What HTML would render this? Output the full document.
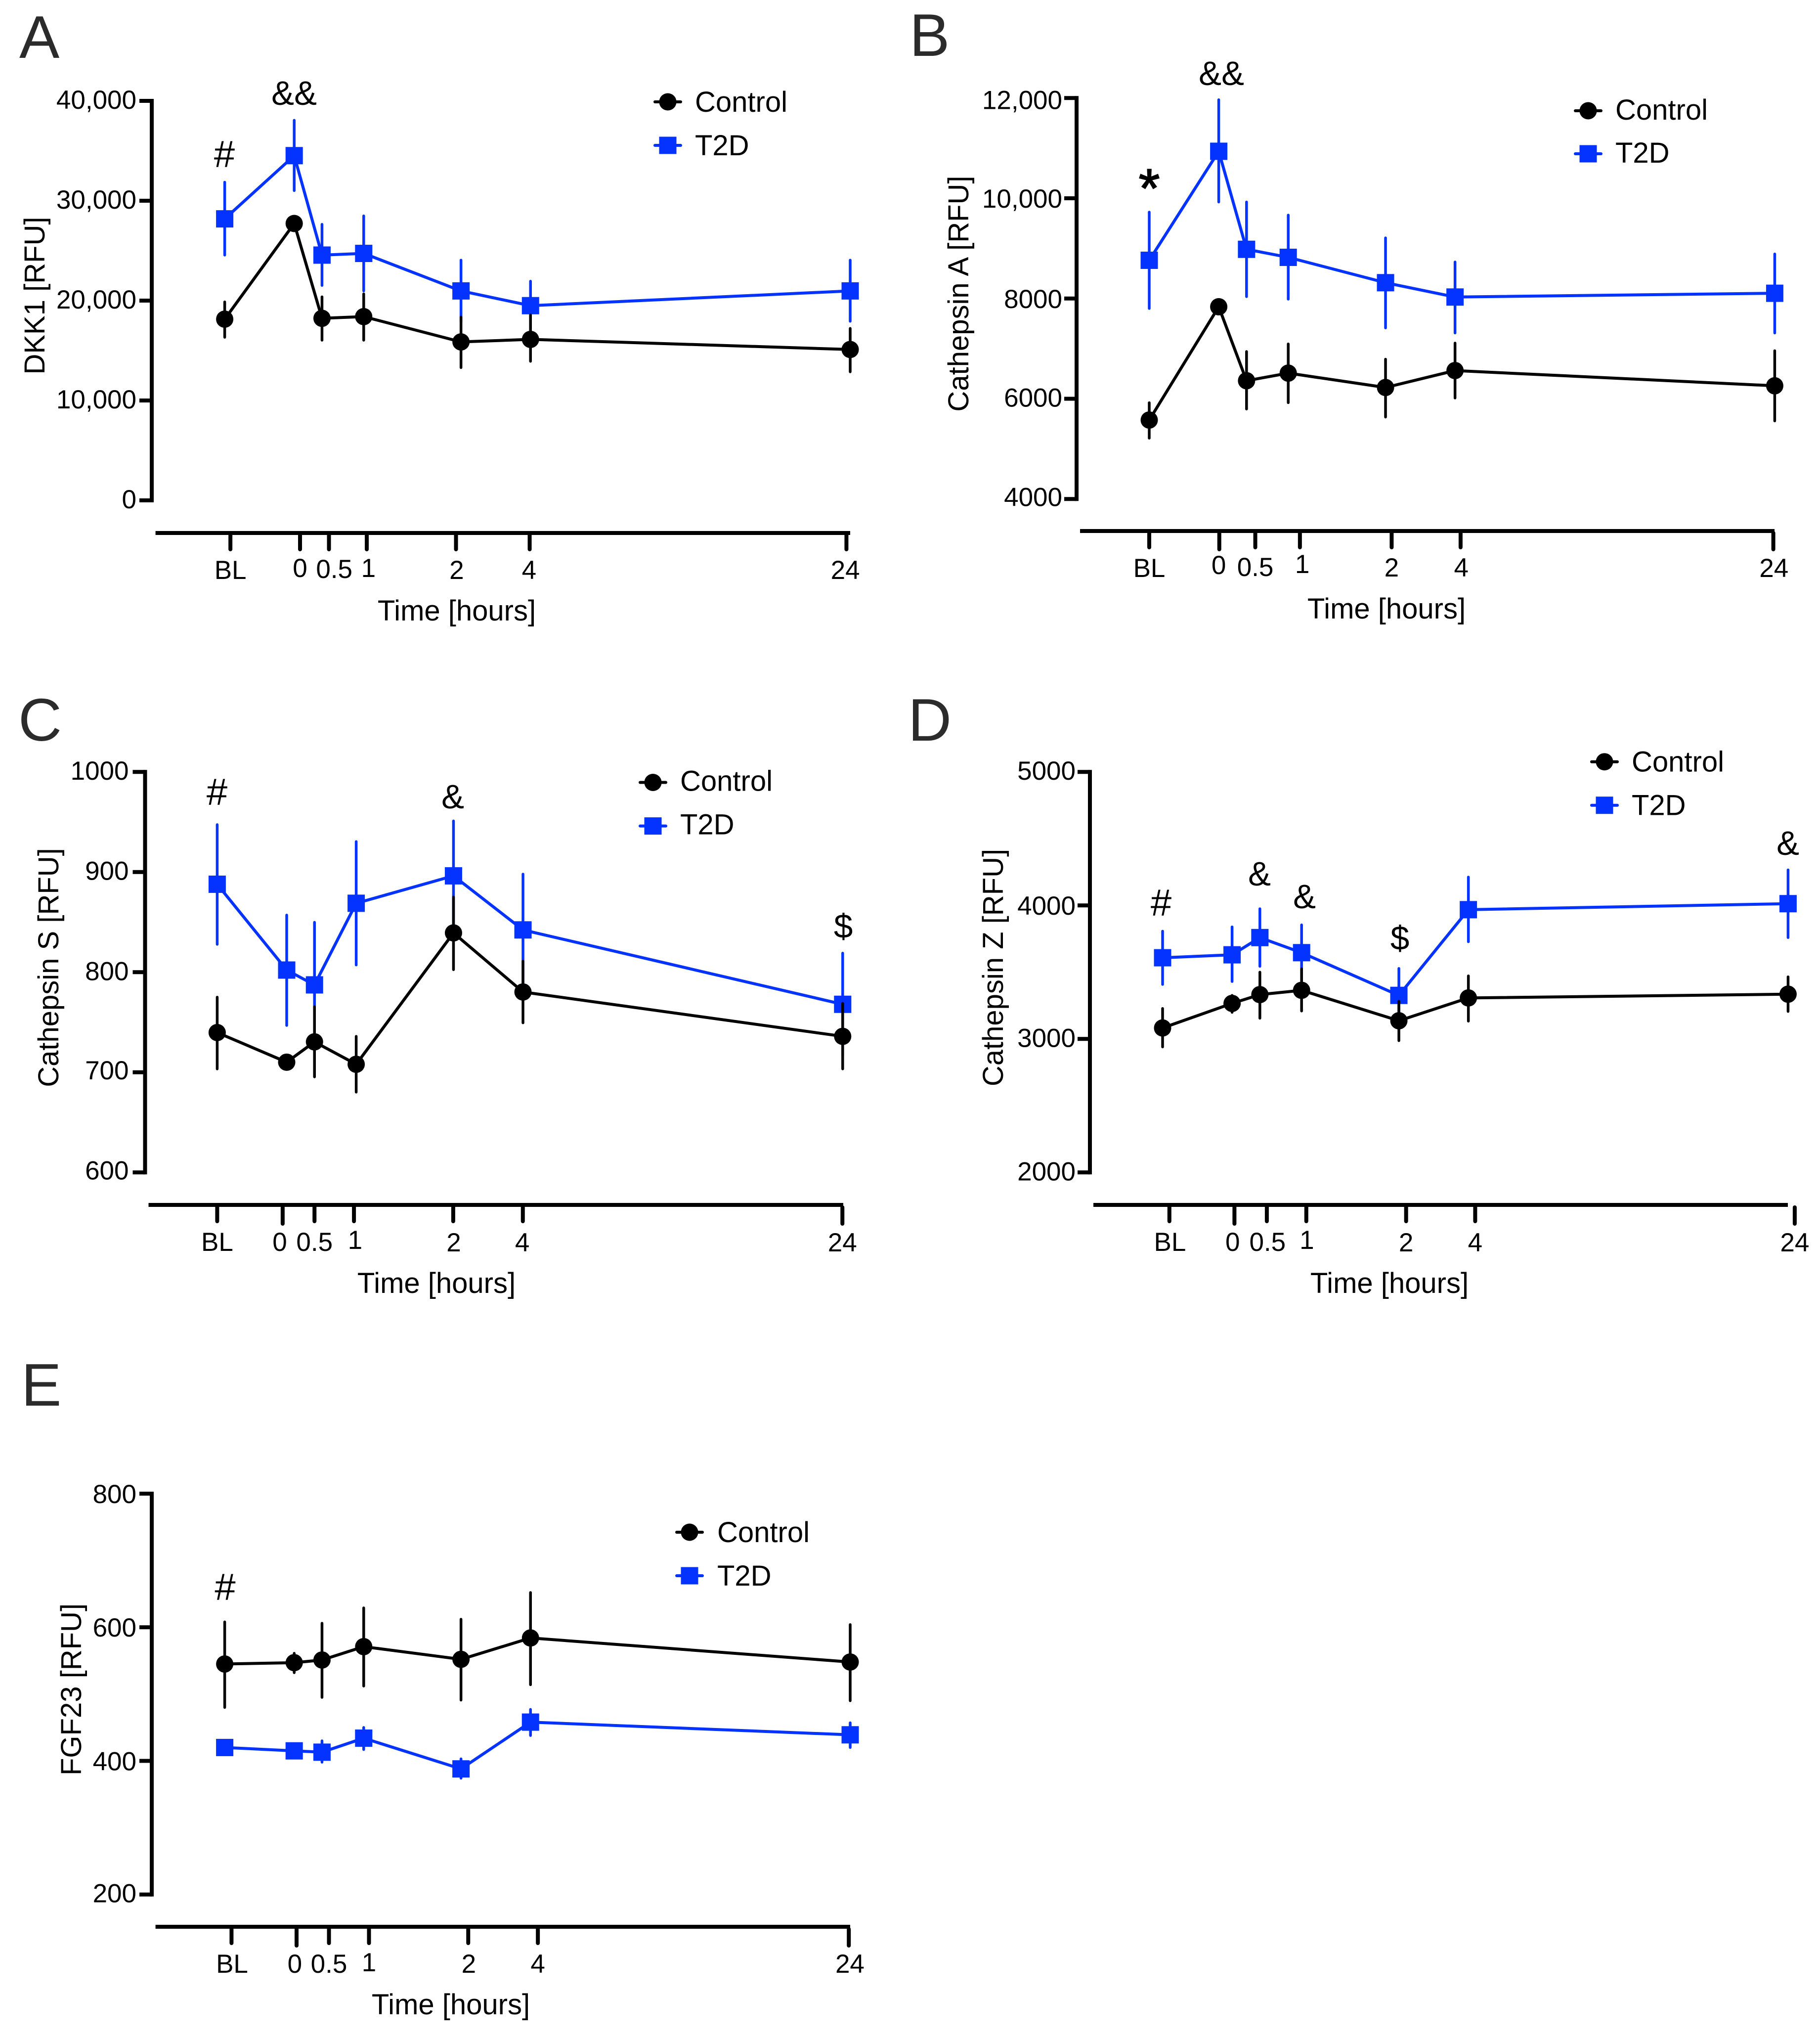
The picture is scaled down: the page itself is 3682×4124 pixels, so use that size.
<!DOCTYPE html>
<html lang="en">
<head>
<meta charset="utf-8">
<title>Time course of DKK1, Cathepsins and FGF23 in Control and T2D</title>
<style>
html,body{margin:0;padding:0;background:#fff;}
svg{display:block;font-family:"Liberation Sans",Arial,sans-serif;}
</style>
</head>
<body>
<svg id="figure" xmlns="http://www.w3.org/2000/svg" width="3682" height="4124" viewBox="0 0 3682 4124">
<rect x="0" y="0" width="3682" height="4124" fill="#ffffff"/>
</svg>
<script>
/* shared categories */
const timeLabels = ["BL", "0", "0.5", "1", "2", "4", "24"];
const timeSlots = [-5, 0, 2, 5, 12, 17, 40];
const seriesNames = ["Control", "T2D"];

/* Panel A: DKK1 */
const aControl = [18143, 27722, 18228, 18397, 15865, 16118, 15105];
const aControlHi = [19873, 28000, 20380, 20675, 18354, 18565, 17215];
const aControlLo = [16329, 27400, 16034, 16034, 13291, 13924, 12869];
const aT2D = [28186, 34515, 24557, 24726, 20970, 19494, 20970];
const aT2DHi = [31857, 38059, 27637, 28481, 24051, 21941, 24051];
const aT2DLo = [24557, 31013, 21519, 20970, 17890, 17046, 17932];
const aYTicks = [0, 10000, 20000, 30000, 40000];
const aYTickLabels = ["0", "10,000", "20,000", "30,000", "40,000"];
const aTickSlots = [-4.59, 0.42, 2.5, 5.22, 11.64, 16.94, 39.73];
const aLabelSlots = [-4.59, 0.42, 2.88, 5.34, 11.69, 16.9, 39.65];

/* Panel B: Cathepsin A */
const bControl = [5576, 7836, 6360, 6512, 6225, 6563, 6259];
const bControlHi = [5922, 7900, 6942, 7094, 6790, 7111, 6959];
const bControlLo = [5214, 7770, 5796, 5922, 5635, 6015, 5559];
const bT2D = [8763, 10938, 8982, 8822, 8316, 8030, 8105];
const bT2DHi = [9724, 11966, 9926, 9665, 9210, 8729, 8889];
const bT2DLo = [7802, 9926, 8038, 7987, 7414, 7313, 7313];
const bYTicks = [4000, 6000, 8000, 10000, 12000];
const bYTickLabels = ["4000", "6000", "8000", "10,000", "12,000"];
const bTickSlots = [-5, 0.04, 2.63, 5.84, 12.44, 17.4, 39.9];
const bLabelSlots = [-5, 0, 2.63, 6.01, 12.44, 17.45, 39.94];

/* Panel C: Cathepsin S */
const cControl = [739.7, 710.1, 730.4, 708, 839.2, 780.2, 735.9];
const cControlHi = [775, 714, 765.4, 735.9, 875, 811, 768.8];
const cControlLo = [703.4, 705, 695.4, 680.2, 802.5, 749.4, 703.4];
const cT2D = [887.8, 802.1, 787.3, 868.8, 896.2, 842.2, 767.9];
const cT2DHi = [947.3, 857, 849.8, 930.4, 951, 897.9, 819];
const cT2DLo = [827.8, 746.8, 724.9, 807.2, 841.4, 786.5, 716.9];
const cYTicks = [600, 700, 800, 900, 1000];
const cYTickLabels = ["600", "700", "800", "900", "1000"];
const cTickSlots = [-5, -0.29, 2, 4.84, 11.98, 16.99, 39.98];
const cLabelSlots = [-5, -0.5, 2, 4.92, 12.02, 16.95, 39.98];

/* Panel D: Cathepsin Z */
const dControl = [3082, 3266, 3332, 3364, 3136, 3307, 3335];
const dControlHi = [3228, 3326, 3500, 3525, 3282, 3472, 3465];
const dControlLo = [2940, 3199, 3155, 3209, 2987, 3133, 3206];
const dT2D = [3608, 3630, 3759, 3646, 3326, 3968, 4013];
const dT2DHi = [3807, 3839, 3975, 3854, 3528, 4212, 4266];
const dT2DLo = [3408, 3430, 3544, 3437, 3123, 3728, 3759];
const dYTicks = [2000, 3000, 4000, 5000];
const dYTickLabels = ["2000", "3000", "4000", "5000"];
const dTickSlots = [-4.51, 0.17, 2.5, 5.34, 12.52, 17.49, 40.48];
const dLabelSlots = [-4.47, 0.04, 2.55, 5.38, 12.52, 17.49, 40.48];

/* Panel E: FGF23 */
const eControl = [545, 547, 551, 571, 552, 584, 548];
const eControlHi = [608, 561, 606, 629, 612, 652, 604];
const eControlLo = [480, 532, 495, 512, 491, 514, 490];
const eT2D = [420, 415, 413, 434, 388, 458, 439];
const eT2DHi = [428, 423, 430, 450, 403, 477, 457];
const eT2DLo = [412, 407, 398, 417, 374, 438, 420];
const eYTicks = [200, 400, 600, 800];
const eYTickLabels = ["200", "400", "600", "800"];
const eTickSlots = [-4.51, 0.17, 2.5, 5.38, 12.52, 17.53, 39.9];
const eLabelSlots = [-4.47, 0.04, 2.5, 5.38, 12.56, 17.53, 39.98];

/* Panel layouts (pixel geometry of frames, kept apart from the data) */
const layouts = [
  {id:"a", letter:"A", letterX:39, letterY:117, title:"DKK1 [RFU]", titleX:90, titleY:598,
   control:aControl, controlHi:aControlHi, controlLo:aControlLo, t2d:aT2D, t2dHi:aT2DHi, t2dLo:aT2DLo,
   yTicks:aYTicks, yLabels:aYTickLabels, yLabelShift:[-3,-3,-3,-3,-3], tickSlots:aTickSlots, labelSlots:aLabelSlots,
   yMin:0, yMax:40000, axisX:307, yTop:204, yBot:1012, x0:595.2, unit:28.12, labelGap:31,
   xStart:314.6, xEnd:1720, xAxisY:1078, tickEnd:1115, tickShift:[0,0,0,0,0,0,0], labelDrop:[74,70,72,70,74,74,74],
   timeX:924, timeY:1255, legendX:1351, legendY:[206,294], legendTextX:1406, legendTextDy:20,
   marks:[["#",454,310],["&&",595,187]]},
  {id:"b", letter:"B", letterX:1840, letterY:113, title:"Cathepsin A [RFU]", titleX:1959, titleY:594,
   control:bControl, controlHi:bControlHi, controlLo:bControlLo, t2d:bT2D, t2dHi:bT2DHi, t2dLo:bT2DLo,
   yTicks:bYTicks, yLabels:bYTickLabels, yLabelShift:[-5,-3,0,0,3], tickSlots:bTickSlots, labelSlots:bLabelSlots,
   yMin:4000, yMax:12000, axisX:2178, yTop:198.3, yBot:1009.3, x0:2465.6, unit:28.12, labelGap:29,
   xStart:2185, xEnd:3590, xAxisY:1074, tickEnd:1111, tickShift:[0,4,0,0,0,0,4], labelDrop:[74,68,72,66,73,73,74],
   timeX:2805, timeY:1251, legendX:3213, legendY:[224,311], legendTextX:3268, legendTextDy:18,
   marks:[["&&",2471,147],["*",2325,354]]},
  {id:"c", letter:"C", letterX:37, letterY:1498, title:"Cathepsin S [RFU]", titleX:118, titleY:1957,
   control:cControl, controlHi:cControlHi, controlLo:cControlLo, t2d:cT2D, t2dHi:cT2DHi, t2dLo:cT2DLo,
   yTicks:cYTicks, yLabels:cYTickLabels, yLabelShift:[-5,-5,-3,-3,-3], tickSlots:cTickSlots, labelSlots:cLabelSlots,
   yMin:600, yMax:1000, axisX:293.5, yTop:1561.2, yBot:2371.3, x0:580, unit:28.12, labelGap:33,
   xStart:300.5, xEnd:1706, xAxisY:2437, tickEnd:2474, tickShift:[0,5,0,0,0,0,5], labelDrop:[74,74,74,70,75,75,75],
   timeX:883, timeY:2615, legendX:1321, legendY:[1582.5,1670.6], legendTextX:1376, legendTextDy:17,
   marks:[["#",439,1600],["&",916,1610],["$",1706,1872]]},
  {id:"d", letter:"D", letterX:1837, letterY:1498, title:"Cathepsin Z [RFU]", titleX:2029, titleY:1957,
   control:dControl, controlHi:dControlHi, controlLo:dControlLo, t2d:dT2D, t2dHi:dT2DHi, t2dLo:dT2DLo,
   yTicks:dYTicks, yLabels:dYTickLabels, yLabelShift:[-3,-3,0,-3], tickSlots:dTickSlots, labelSlots:dLabelSlots,
   yMin:2000, yMax:5000, axisX:2205, yTop:1561.2, yBot:2371.3, x0:2492.6, unit:28.12, labelGap:29,
   xStart:2212, xEnd:3617, xAxisY:2437, tickEnd:2474, tickShift:[0,5,0,0,0,0,5], labelDrop:[74,74,74,70,75,75,75],
   timeX:2811, timeY:2615, legendX:3246, legendY:[1540.7,1628.7], legendTextX:3301, legendTextDy:20,
   marks:[["#",2349,1824],["&",2548,1766],["&",2639,1812],["$",2832,1896],["&",3617,1704]]},
  {id:"e", letter:"E", letterX:43, letterY:2843, title:"FGF23 [RFU]", titleX:164, titleY:3417,
   control:eControl, controlHi:eControlHi, controlLo:eControlLo, t2d:eT2D, t2dHi:eT2DHi, t2dLo:eT2DLo,
   yTicks:eYTicks, yLabels:eYTickLabels, yLabelShift:[-3,0,0,0], tickSlots:eTickSlots, labelSlots:eLabelSlots,
   yMin:200, yMax:800, axisX:307, yTop:3021, yBot:3831.7, x0:595.2, unit:28.12, labelGap:31,
   xStart:314.6, xEnd:1720, xAxisY:3897, tickEnd:3934, tickShift:[0,5,0,0,0,0,5], labelDrop:[74,74,74,71,74,74,74],
   timeX:912, timeY:4074, legendX:1395, legendY:[3099,3187], legendTextX:1451, legendTextDy:20,
   marks:[["#",455.5,3208]]}
];

const BLACK = "#000000";
const BLUE = "#0433ff";
const NS = "http://www.w3.org/2000/svg";
const root = document.getElementById("figure");

function add(parent, tag, attrs, name) {
  const el = document.createElementNS(NS, tag);
  for (const k in attrs) el.setAttribute(k, attrs[k]);
  
  
  parent.appendChild(el);
  return el;
}
function addText(parent, str, attrs, name) {
  const el = add(parent, "text", attrs, name);
  el.textContent = str;
  return el;
}
function line(parent, x1, y1, x2, y2, color, width, cap, name) {
  return add(parent, "line", {x1:x1, y1:y1, x2:x2, y2:y2, stroke:color, "stroke-width":width, "stroke-linecap":cap}, name);
}
function marker(parent, kind, x, y, name) {
  if (kind === 0) return add(parent, "circle", {cx:x, cy:y, r:17.5, fill:BLACK}, name);
  return add(parent, "rect", {x:x-17.5, y:y-17.5, width:35, height:35, fill:BLUE}, name);
}

function drawSeries(g, p, kind, xScale, yScale) {
  const values = kind === 0 ? p.control : p.t2d;
  const hi = kind === 0 ? p.controlHi : p.t2dHi;
  const lo = kind === 0 ? p.controlLo : p.t2dLo;
  const color = kind === 0 ? BLACK : BLUE;
  const label = kind === 0 ? "control" : "t2d";
  const s = add(g, "g", {}, label + "-series");
  add(s, "polyline", {
    points: values.map((v, i) => xScale(timeSlots[i]) + "," + yScale(v)).join(" "),
    fill: "none", stroke: color, "stroke-width": 6, "stroke-linejoin": "round"
  }, label + "-line");
  values.forEach((v, i) => {
    line(s, xScale(timeSlots[i]), yScale(hi[i]), xScale(timeSlots[i]), yScale(lo[i]), color, 5.5, "round", label + "-error-bar-" + timeLabels[i]);
  });
  values.forEach((v, i) => {
    marker(s, kind, xScale(timeSlots[i]), yScale(v), label + "-point-" + timeLabels[i]);
  });
}

function drawPanel(p) {
  const g = add(root, "g", {}, "panel-" + p.id);
  const yScale = v => p.yBot - (v - p.yMin) / (p.yMax - p.yMin) * (p.yBot - p.yTop);
  const xScale = s => p.x0 + s * p.unit;

  addText(g, p.letter, {x:p.letterX, y:p.letterY, "font-size":122, fill:"#2b2b2b"}, "panel-letter");

  /* y axis */
  line(g, p.axisX, p.yTop - 4, p.axisX, p.yBot + 4, BLACK, 8, "butt", "y-axis-line");
  p.yTicks.forEach((t, i) => {
    const y = yScale(t);
    line(g, p.axisX - 25, y, p.axisX, y, BLACK, 8, "butt", "y-tick");
    addText(g, p.yLabels[i], {x:p.axisX - p.labelGap, y:y + 19 + p.yLabelShift[i], "font-size":53, "text-anchor":"end", fill:BLACK}, "y-tick-label");
  });
  addText(g, p.title, {x:p.titleX, y:p.titleY, "font-size":58, "text-anchor":"middle", fill:BLACK,
    transform:"rotate(-90 " + p.titleX + " " + p.titleY + ")"}, "y-axis-title");

  /* x axis */
  line(g, p.xStart, p.xAxisY, p.xEnd, p.xAxisY, BLACK, 8, "butt", "x-axis-line");
  p.tickSlots.forEach((s, i) => {
    const x = xScale(s);
    const top = p.xAxisY + p.tickShift[i];
    line(g, x, top, x, p.tickEnd + p.tickShift[i] - 4, BLACK, 8, "round", "x-tick-" + timeLabels[i]);
  });
  p.labelSlots.forEach((s, i) => {
    addText(g, timeLabels[i], {x:xScale(s), y:p.xAxisY + p.labelDrop[i] + 19, "font-size":53, "text-anchor":"middle", fill:BLACK}, "x-tick-label");
  });
  addText(g, "Time [hours]", {x:p.timeX, y:p.timeY, "font-size":58, "text-anchor":"middle", fill:BLACK}, "x-axis-title");

  /* series: T2D underneath, Control on top, as in the figure */
  drawSeries(g, p, 1, xScale, yScale);
  drawSeries(g, p, 0, xScale, yScale);

  /* significance marks */
  p.marks.forEach(m => {
    const size = m[0] === "#" ? 76 : m[0] === "*" ? 110 : 69;
    const base = m[0] === "*" ? m[2] + 0.585 * size : m[2] + 0.36 * size;
    const attrs = {x:m[1], y:base, "font-size":size, "text-anchor":"middle", fill:BLACK};
    if (m[0] === "*") { attrs.stroke = BLACK; attrs["stroke-width"] = 2; }
    addText(g, m[0], attrs, "significance-mark");
  });

  /* legend */
  const lg = add(g, "g", {}, "legend");
  seriesNames.forEach((nm, i) => {
    const color = i === 0 ? BLACK : BLUE;
    line(lg, p.legendX - 26, p.legendY[i], p.legendX + 26, p.legendY[i], color, 6, "round", "legend-line-" + nm);
    marker(lg, i, p.legendX, p.legendY[i], "legend-marker-" + nm);
    addText(lg, nm, {x:p.legendTextX, y:p.legendY[i] + p.legendTextDy, "font-size":58, fill:BLACK}, "legend-label-" + nm);
  });
}

layouts.forEach(drawPanel);
</script>
</body>
</html>
